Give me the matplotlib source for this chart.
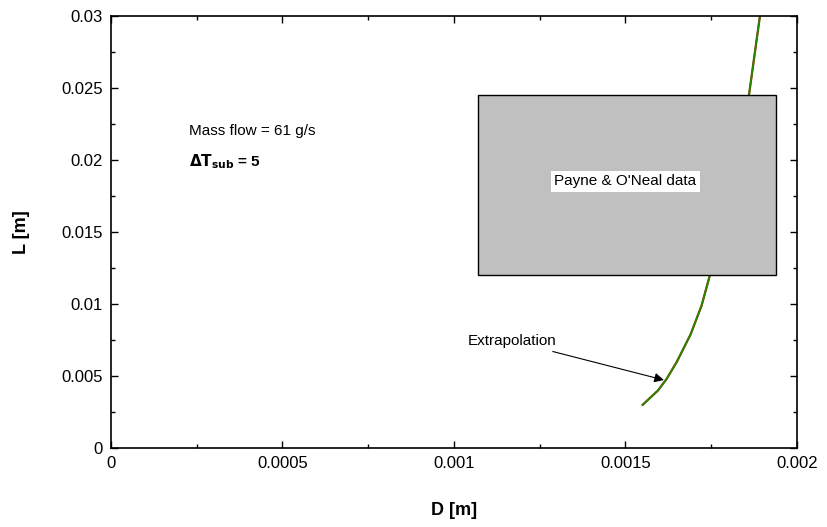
import numpy as np
import matplotlib
matplotlib.use('Agg')
from matplotlib import pyplot as plt
from matplotlib.patches import Rectangle
from matplotlib.ticker import MultipleLocator

plt.rcParams['font.family'] = ['Liberation Sans', 'DejaVu Sans']

# Curve
D = [0.00155, 0.001595, 0.00162, 0.00165, 0.00169, 0.001722, 0.001746, 0.00186, 0.001892]
L = [0.003, 0.004, 0.0048, 0.006, 0.0079, 0.0099, 0.012, 0.0245, 0.030]

# Payne & O'Neal data box
box_D = (0.00107, 0.00194)
box_L = (0.012, 0.0245)

fig = plt.figure(figsize=(8.27, 5.27), dpi=100)
ax = fig.add_axes([0.1342, 0.1499, 0.8295, 0.8197])

ax.add_patch(Rectangle((box_D[0], box_L[0]), box_D[1] - box_D[0], box_L[1] - box_L[0],
                       facecolor='#c0c0c0', edgecolor='black', lw=1.0, zorder=3))
ax.text(0.0015, 0.01854, "Payne & O'Neal data", ha='center', va='center',
        fontsize=11, zorder=4,
        bbox=dict(facecolor='white', edgecolor='none', pad=2.5))

ax.plot(D, L, color='#8a2a00', lw=1.6, zorder=2)
ax.plot(D, L, color='#228b00', lw=1.2, zorder=2)

ax.annotate('Extrapolation', xy=(0.001612, 0.00472), xytext=(0.001169, 0.00743),
            ha='center', va='center', fontsize=11,
            arrowprops=dict(arrowstyle='-|>', color='black', lw=0.8, mutation_scale=14,
                            shrinkA=2, shrinkB=0))

ax.text(0.000227, 0.022, 'Mass flow = 61 g/s', fontsize=11, va='center')
ax.text(0.000227, 0.0199, r'$\mathbf{\Delta T_{sub}}$ = 5', fontsize=11, va='center',
        fontweight='bold')

ax.set_xlim(0, 0.002)
ax.set_ylim(0, 0.03)
ax.set_xticks([0, 0.0005, 0.001, 0.0015, 0.002])
ax.set_xticklabels(['0', '0.0005', '0.001', '0.0015', '0.002'], fontsize=12)
ax.set_yticks([0, 0.005, 0.01, 0.015, 0.02, 0.025, 0.03])
ax.set_yticklabels(['0', '0.005', '0.01', '0.015', '0.02', '0.025', '0.03'], fontsize=12)
ax.xaxis.set_minor_locator(MultipleLocator(0.00025))
ax.yaxis.set_minor_locator(MultipleLocator(0.0025))
ax.tick_params(which='both', direction='in', top=True, right=True, width=1)
ax.tick_params(which='major', length=5, pad=6)
ax.tick_params(which='minor', length=3)
for s in ax.spines.values():
    s.set_linewidth(1.2)

ax.set_xlabel('D [m]', fontsize=13, fontweight='bold', labelpad=22)
ax.set_ylabel('L [m]', fontsize=13, fontweight='bold', labelpad=22)

fig.savefig('out.png', dpi=100)
